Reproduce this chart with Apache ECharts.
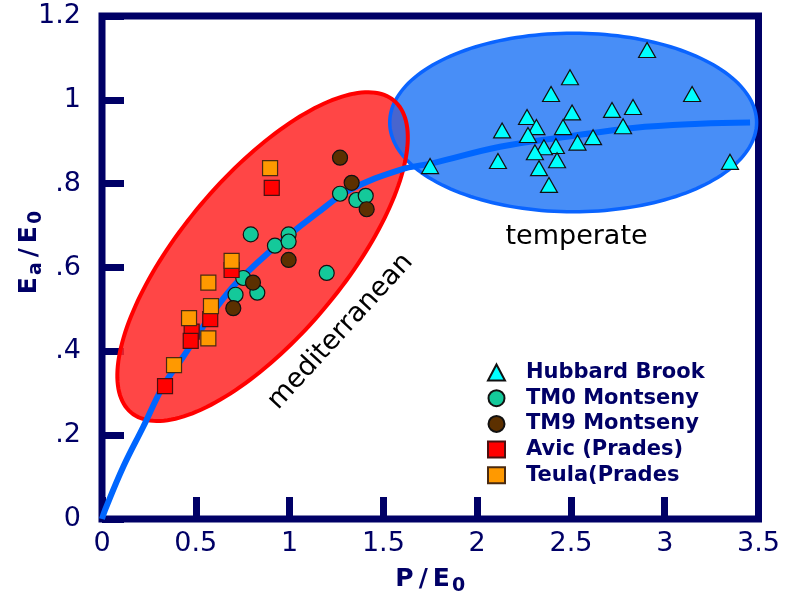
<!DOCTYPE html>
<html><head><meta charset="utf-8">
<script src="https://cdn.jsdelivr.net/npm/echarts@6/dist/echarts.min.js"></script>
<style>html,body{margin:0;padding:0;background:#fff}#c{width:785px;height:598px}</style>
</head><body><div id="c"></div>
<script>
const navy = '#000066';
const FONT = 'DejaVu Sans';
const xTickLabels = ['0','0.5','1','1.5','2','2.5','3','3.5'];
const yTickLabels = ['0','.2','.4','.6','.8','1','1.2'];
const seriesNames = ['Hubbard Brook','TM0 Montseny','TM9 Montseny','Avic (Prades)','Teula(Prades'];

const hubbardBrook = [
  [2.906,1.119],[2.495,1.054],[2.394,1.014],[3.146,1.014],[2.506,0.970],[2.719,0.976],
  [2.831,0.983],[2.266,0.959],[2.316,0.935],[2.458,0.935],[2.778,0.937],[2.133,0.927],
  [2.271,0.916],[2.618,0.911],[2.535,0.898],[2.420,0.890],[2.356,0.887],[2.308,0.875],
  [2.426,0.856],[2.111,0.854],[2.330,0.837],[1.749,0.842],[3.348,0.852],[2.383,0.797]
];
const tm0Montseny = [
  [0.793,0.679],[0.922,0.652],[0.995,0.679],[0.995,0.662],[1.269,0.776],[1.356,0.761],
  [1.406,0.771],[1.198,0.587],[0.753,0.575],[0.828,0.540],[0.712,0.535]
];
const tm9Montseny = [
  [1.269,0.862],[1.331,0.802],[1.411,0.739],[0.995,0.618],[0.805,0.564],[0.700,0.503]
];
const avicPrades = [
  [0.905,0.790],[0.691,0.594],[0.577,0.477],[0.478,0.447],[0.473,0.425],[0.336,0.317]
];
const teulaPrades = [
  [0.896,0.837],[0.691,0.616],[0.567,0.564],[0.581,0.508],[0.464,0.479],[0.567,0.431],[0.384,0.367]
];
const fitCurve = [
  [0,0],[0.016,0.021],[0.114,0.125],[0.220,0.220],[0.325,0.316],[0.433,0.387],[0.576,0.483],
  [0.698,0.554],[0.825,0.610],[0.967,0.666],[1.145,0.729],[1.322,0.785],[1.589,0.833],
  [1.765,0.849],[2.122,0.888],[2.477,0.912],[2.831,0.933],[3.188,0.943],[3.455,0.946]
];
// ellipses: centre, end of first semi-axis, end of second semi-axis (data units)
const redEllipse = [[0.856,0.626],[1.557,0.998],[1.185,0.502]];
const blueEllipse = [[2.512,0.946],[3.490,0.946],[2.512,1.159]];
// region labels: text, x, y, angle (deg)
const regionLabels = [['mediterranean',1.272,0.447,47.5],['temperate',2.530,0.672,0]];

function ellipsePts(api, e) {
  const c = api.coord(e[0]), m = api.coord(e[1]), n = api.coord(e[2]);
  const a = [m[0]-c[0], m[1]-c[1]], b = [n[0]-c[0], n[1]-c[1]];
  const pts = [];
  for (let i = 0; i < 180; i++) {
    const t = i / 180 * 2 * Math.PI;
    pts.push([c[0] + a[0]*Math.cos(t) + b[0]*Math.sin(t), c[1] + a[1]*Math.cos(t) + b[1]*Math.sin(t)]);
  }
  return pts;
}

const chart = echarts.init(document.getElementById('c'), null, {renderer:'canvas'});
const bold = {fontFamily: FONT, fontWeight:'bold', color: navy};
const nameRich = {
  b: Object.assign({fontSize:25, lineHeight:30}, bold),
  g: Object.assign({fontSize:25, lineHeight:30, padding:[0,5,0,5]}, bold),
  s: Object.assign({fontSize:19, padding:[14,0,0,2]}, bold)
};
chart.setOption({
  animation: false,
  backgroundColor: '#fff',
  grid: {left:102, right:26.5, top:16, bottom:79, containLabel:false, outerBoundsMode:'none',
    show:true, borderColor:navy, borderWidth:7, backgroundColor:'transparent'},
  xAxis: {
    type:'value', min:0, max:3.5, interval:0.5,
    axisLine:{show:false}, splitLine:{show:false},
    axisTick:{inside:true, length:22, lineStyle:{width:7, color:navy}},
    axisLabel:{margin:11, fontSize:27, color:navy, fontFamily:FONT,
      formatter: v => xTickLabels[Math.round(v/0.5)]},
    name:'{b|P}{g|/}{b|E}{s|0}', nameLocation:'middle', nameGap:44, nameMoveOverlap:false,
    nameTextStyle:{rich:nameRich}
  },
  yAxis: {
    type:'value', min:0, max:1.2, interval:0.2,
    axisLine:{show:false}, splitLine:{show:false},
    axisTick:{inside:true, length:22, lineStyle:{width:7, color:navy}},
    axisLabel:{margin:21, fontSize:27, color:navy, fontFamily:FONT,
      formatter: v => yTickLabels[Math.round(v/0.2)]},
    name:'{b|E}{s|a}{g|/}{b|E}{s|0}', nameLocation:'middle', nameGap:56, nameMoveOverlap:false,
    nameTextStyle:{padding:[0,0,0,30], rich:nameRich}
  },
  legend: {
    orient:'vertical', left:482, top:357, itemWidth:17, itemHeight:16, itemGap:4.7,
    data: seriesNames,
    textStyle:{fontSize:21, fontWeight:'bold', color:navy, fontFamily:FONT, padding:[0,0,0,16]}
  },
  series: [
    {
      type:'custom', coordinateSystem:'cartesian2d', data:[[0,0]], silent:true, z:1, clip:false,
      renderItem: function (params, api) {
        const children = [
          {type:'polygon', shape:{points:ellipsePts(api, redEllipse)}, style:{fill:'rgba(255,40,40,0.86)', stroke:null}},
          {type:'polygon', shape:{points:ellipsePts(api, blueEllipse)}, style:{fill:'rgba(20,110,245,0.78)', stroke:'#0a64ff', lineWidth:3.5}},
          {type:'polygon', shape:{points:ellipsePts(api, redEllipse)}, style:{fill:null, stroke:'#ff0000', lineWidth:4}}
        ];
        regionLabels.forEach(l => {
          const p = api.coord([l[1], l[2]]);
          children.push({type:'text', x:p[0], y:p[1], rotation:l[3]*Math.PI/180,
            style:{text:l[0], fontSize:27, fontFamily:FONT, fill:'#000', align:'center', verticalAlign:'middle'}});
        });
        return {type:'group', children};
      }
    },
    {
      type:'line', data:fitCurve, smooth:0.4, showSymbol:false, z:2, silent:true,
      lineStyle:{color:'#0066ff', width:6}
    },
    {name:seriesNames[0], type:'scatter', data:hubbardBrook, symbol:'triangle', symbolSize:[17,15], z:3,
      itemStyle:{color:'#00ffff', borderColor:'#111', borderWidth:1.2, opacity:1}},
    {name:seriesNames[1], type:'scatter', data:tm0Montseny, symbol:'circle', symbolSize:15, z:3,
      itemStyle:{color:'#14c99a', borderColor:'#111', borderWidth:1.2, opacity:1}},
    {name:seriesNames[2], type:'scatter', data:tm9Montseny, symbol:'circle', symbolSize:15, z:3,
      itemStyle:{color:'#5c3000', borderColor:'#111', borderWidth:1.2, opacity:1}},
    {name:seriesNames[3], type:'scatter', data:avicPrades, symbol:'rect', symbolSize:15, z:3,
      itemStyle:{color:'#ff0000', borderColor:'#4a1010', borderWidth:1.2, opacity:1}},
    {name:seriesNames[4], type:'scatter', data:teulaPrades, symbol:'rect', symbolSize:15, z:3,
      itemStyle:{color:'#ff9900', borderColor:'#4a2a10', borderWidth:1.2, opacity:1}}
  ]
});
</script>
</body></html>
